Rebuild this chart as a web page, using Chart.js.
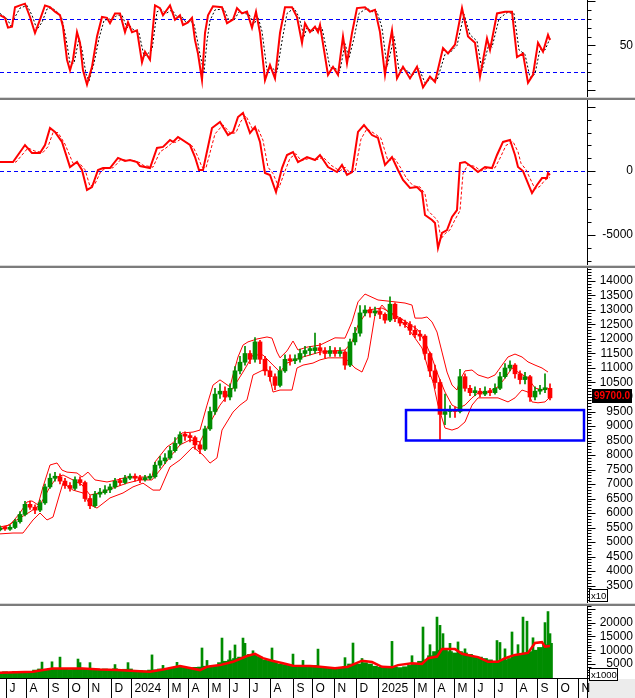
<!DOCTYPE html>
<html lang="vi">
<head>
    <meta charset="UTF-8">
    <title>Biểu đồ kỹ thuật</title>
    <script src="https://cdn.jsdelivr.net/npm/chart.js@4.4.1/dist/chart.umd.min.js"></script>
    <style>
        html, body { margin: 0; padding: 0; background: #fff; }
        #wrap { position: relative; width: 635px; height: 698px; overflow: hidden; }
        #wrap canvas { position: absolute; left: 0; }
        .sep { position: absolute; left: 0; width: 635px; height: 3px; box-sizing: border-box;
               border-top: 1px solid #d8d8d8; background: #7c7c7c; }
    </style>
</head>
<body>
<div id="wrap">
    <canvas id="c1" width="635" height="97" style="top:0"></canvas>
    <div class="sep" style="top:97px"></div>
    <canvas id="c2" width="635" height="165" style="top:100px"></canvas>
    <div class="sep" style="top:265px"></div>
    <canvas id="c3" width="635" height="335" style="top:268px"></canvas>
    <div class="sep" style="top:603px"></div>
    <canvas id="c4" width="635" height="92" style="top:606px"></canvas>
</div>

<script>
    // x axis = bar index (about one trading day per pixel)
    const X_MAX = 587;
    const monthTicks = [6, 26, 48, 68, 88, 111, 131, 168, 188, 208, 229, 249, 270, 293, 312,
        334, 356, 378, 414, 434, 454, 474, 494, 516, 537, 557, 578];
    const monthLabels = ['J', 'A', 'S', 'O', 'N', 'D', '2024', 'M', 'A', 'M', 'J', 'J', 'A', 'S', 'O',
        'N', 'D', '2025', 'M', 'A', 'M', 'J', 'J', 'A', 'S', 'O', 'N'];

    // weekly candles (price x10)
    const openP = [5420, 5480, 5440, 5500, 5700, 5950, 6300, 6200, 6100, 6350,
        6900, 7200, 7250, 7100, 6950, 6850, 7150, 7050, 6500, 6250,
        6650, 6700, 6800, 6900, 7100, 7050, 7200, 7250, 7200, 7150,
        7200, 7250, 7650, 7800, 7900, 8150, 8400, 8700, 8650, 8600,
        8350, 8200, 8900, 9500, 10100, 10200, 10000, 10300, 10900, 11200,
        11500, 11300, 11900, 11300, 10900, 10700, 10400, 10900, 11300, 11250,
        11300, 11500, 11600, 11600, 11700, 11600, 11500, 11600, 11500, 11550,
        11100, 11900, 12200, 12900, 13000, 12900, 12950, 12850, 12650, 13200,
        12700, 12550, 12500, 12300, 12150, 12100, 11500, 10900, 10500, 9400,
        9500, 9550, 9500, 10700, 10300, 10150, 10200, 10100, 10200, 10150,
        10300, 10700, 11000, 11100, 10800, 10600, 10700, 10000, 10200, 10250,
        10300];
    const highP = [5560, 5540, 5580, 5780, 6050, 6400, 6420, 6280, 6450, 7000,
        7350, 7400, 7350, 7200, 7050, 7250, 7250, 7100, 6600, 6750,
        6850, 6950, 7000, 7200, 7200, 7300, 7350, 7350, 7300, 7300,
        7350, 7750, 7950, 8050, 8300, 8600, 8800, 8800, 8750, 8650,
        8450, 9000, 9650, 10300, 10450, 10350, 10450, 11050, 11400, 11750,
        11600, 12050, 11950, 11400, 11050, 10800, 11050, 11450, 11450, 11450,
        11650, 11750, 11750, 12200, 11850, 11700, 11750, 11700, 11700, 11600,
        12000, 12400, 13150, 13150, 13100, 13100, 13050, 12900, 13450, 13250,
        12750, 12650, 12600, 12450, 12300, 12150, 11550, 11100, 10600, 10100,
        9700, 9650, 10950, 10800, 10400, 10350, 10300, 10350, 10300, 10450,
        10850, 11150, 11250, 11150, 10900, 10850, 10750, 10350, 10400, 10800,
        10450];
    const lowP = [5380, 5400, 5400, 5460, 5650, 5900, 6120, 5980, 6050, 6300,
        6850, 7100, 7000, 6850, 6750, 6800, 6950, 6400, 6150, 6200,
        6550, 6650, 6700, 6850, 6950, 7000, 7150, 7100, 7050, 7100,
        7150, 7200, 7550, 7700, 7850, 8100, 8350, 8500, 8450, 8200,
        8050, 8150, 8850, 9400, 9950, 9850, 9900, 10200, 10800, 11100,
        11150, 11200, 11150, 10750, 10550, 10250, 10350, 10850, 11100, 11150,
        11200, 11400, 11450, 11500, 11450, 11350, 11400, 11400, 11400, 10950,
        11050, 11800, 12100, 12800, 12750, 12800, 12700, 12550, 12600, 12600,
        12450, 12400, 12150, 12050, 11950, 11300, 10700, 10300, 8500, 9050,
        9300, 9300, 9450, 10200, 10050, 10050, 10000, 10050, 10050, 10100,
        10250, 10650, 10900, 10650, 10450, 10450, 9850, 9900, 10100, 10150,
        9900];
    const closeP = [5480, 5450, 5500, 5700, 5950, 6300, 6200, 6100, 6350, 6900,
        7200, 7250, 7100, 6950, 6850, 7150, 7050, 6500, 6250, 6650,
        6700, 6800, 6900, 7100, 7050, 7200, 7250, 7200, 7150, 7200,
        7250, 7650, 7800, 7900, 8150, 8400, 8700, 8650, 8600, 8350,
        8200, 8900, 9500, 10100, 10200, 10000, 10300, 10900, 11200, 11500,
        11300, 11900, 11300, 10900, 10700, 10400, 10900, 11300, 11250, 11300,
        11500, 11600, 11600, 11700, 11600, 11500, 11600, 11500, 11550, 11100,
        11900, 12200, 12900, 13000, 12900, 12950, 12850, 12650, 13200, 12700,
        12550, 12500, 12300, 12150, 12100, 11500, 10900, 10500, 9400, 9500,
        9550, 9500, 10700, 10300, 10150, 10200, 10100, 10200, 10150, 10300,
        10700, 11000, 11100, 10800, 10600, 10700, 10000, 10200, 10250, 10300,
        9970];
    // volume (x1000): weekly base level plus single-day spikes
    const volume = [2000, 2200, 1800, 2300, 2000, 2200, 2100, 2800, 3200, 3000,
        3300, 3100, 3400, 3200, 3000, 3300, 3500, 3100, 3300, 3000,
        3100, 3200, 3000, 3300, 2900, 3100, 3200, 2700, 2600, 2500,
        2800, 2900, 3200, 3000, 3300, 3800, 4000, 3600, 3500, 3800,
        3900, 4200, 4000, 4500, 5500, 6000, 6500, 7000, 7500, 8000,
        8500, 8200, 7500, 6500, 6000, 5800, 5000, 4800, 4500, 4300,
        4400, 4200, 4300, 4500, 4000, 3800, 3600, 3800, 3700, 4000,
        5000, 5200, 5000, 5500, 5000, 4200, 3800, 3600, 3800, 3900,
        3700, 4000, 4500, 5000, 6000, 6500, 8000, 9500, 10000, 10500,
        9500, 9000, 9500, 9000, 8500, 7500, 7500, 7000, 6500, 6000,
        6200, 6500, 7000, 8000, 8500, 9000, 9500, 10000, 11000, 12000,
        12500];
    const volSpikes = [[42, 5700], [52, 5800], [60, 7500], [78, 6800], [80, 5500], [90, 5500], [115, 4800],
        [128, 5500], [152, 8300], [163, 4500], [177, 5600], [202, 10800], [207, 6300], [222, 14400], [230, 9800],
        [235, 11900], [243, 14400], [245, 12500], [253, 9800], [272, 10800], [293, 8600], [303, 6300],
        [318, 10400], [345, 7300], [353, 12600], [362, 7000], [392, 13200], [412, 8000], [423, 18400],
        [430, 12000], [437, 22000], [440, 19000], [443, 16000], [450, 12500], [458, 13000], [465, 10500],
        [497, 13500], [500, 12800], [505, 10500], [512, 16600], [518, 12000], [523, 22000], [527, 20500],
        [533, 14500], [545, 20000], [548, 24000], [550, 16000]];
    const barX = closeP.map((_, i) => i * 5);

    // [bar, value]
    const bbUpper = [[0, 5520], [10, 5590], [20, 6000], [27, 6380], [32, 6415], [38, 6280], [43, 6900], [50, 7655],
        [57, 7725], [62, 7480], [67, 7410], [77, 7380], [82, 7240], [88, 7410], [95, 7140], [107, 7070], [117, 7140],
        [127, 7240], [152, 7240], [155, 7760], [167, 8280], [173, 8420], [182, 8760], [193, 8790], [200, 8860],
        [207, 9720], [213, 10410], [220, 10590], [230, 10350], [233, 10760], [238, 11380], [243, 11790], [248, 11900],
        [257, 12000], [267, 12070], [272, 12030], [277, 11550], [280, 11350], [287, 11590], [293, 11930], [298, 11620],
        [307, 11720], [320, 11790], [335, 12040], [345, 12030], [352, 12590], [358, 13280], [365, 13550], [378, 13345],
        [395, 13280], [405, 13240], [412, 13170], [415, 12720], [422, 12720], [427, 12760], [432, 12590], [437, 12240],
        [442, 11550], [447, 10860], [452, 10410], [457, 10240], [460, 10590], [465, 10900], [472, 10930], [478, 10760],
        [488, 10650], [495, 10760], [502, 11100], [508, 11380], [515, 11480], [522, 11380], [528, 11210], [535, 11100],
        [542, 11000], [548, 10860]];
    const bbMid = [[0, 5410], [20, 5830], [30, 6040], [40, 6280], [50, 6900], [57, 7240], [63, 7310], [73, 7140],
        [82, 6970], [90, 6620], [100, 6690], [113, 6860], [127, 7030], [140, 7140], [152, 7140], [160, 7480],
        [170, 7930], [180, 8350], [190, 8520], [200, 8450], [207, 8930], [220, 9720], [233, 10310], [243, 10860],
        [253, 11450], [263, 11450], [273, 11100], [280, 10860], [287, 11170], [300, 11350], [320, 11550], [345, 11620],
        [352, 11900], [358, 12480], [368, 13000], [382, 13070], [395, 12830], [408, 12550], [418, 12310], [425, 11900],
        [432, 11350], [438, 10760], [445, 10170], [452, 9720], [458, 9620], [465, 9720], [472, 9970], [478, 10140],
        [488, 10170], [498, 10350], [505, 10650], [512, 11000], [518, 10860], [528, 10650], [535, 10310], [542, 10240],
        [548, 10310]];
    const bbLower = [[0, 5280], [13, 5310], [23, 5310], [33, 5760], [40, 6000], [47, 5760], [53, 5860], [60, 6690],
        [63, 7030], [73, 6790], [83, 6690], [90, 6280], [97, 6170], [110, 6520], [123, 6690], [133, 6900], [143, 7030],
        [153, 6790], [160, 6790], [170, 7590], [180, 7830], [193, 8280], [203, 8000], [210, 7720], [217, 7900],
        [222, 8860], [233, 9480], [240, 9720], [247, 9900], [253, 10760], [263, 10930], [268, 10930], [273, 10170],
        [280, 10240], [292, 10240], [297, 11000], [303, 11100], [313, 11170], [320, 11280], [328, 11350], [345, 11350],
        [355, 11000], [362, 10860], [368, 11350], [375, 12830], [382, 13170], [388, 12930], [398, 12720], [408, 12380],
        [415, 12030], [422, 11690], [428, 11000], [433, 10520], [438, 9720], [445, 8930], [452, 8860], [458, 8930],
        [465, 9140], [472, 9720], [478, 9970], [488, 9970], [498, 9970], [508, 9830], [515, 9970], [522, 10240],
        [528, 10170], [532, 9830], [538, 9800], [545, 9830], [550, 10000]];

    const stochK = [[0, 84], [5, 81], [8, 70], [12, 71], [15, 93], [20, 95], [25, 97], [30, 82], [35, 64], [40, 79],
        [45, 95], [50, 93], [55, 88], [60, 84], [63, 71], [67, 34], [70, 22], [73, 34], [77, 65], [80, 53], [83, 22],
        [87, 6], [92, 26], [97, 60], [102, 82], [107, 81], [110, 75], [115, 86], [120, 86], [125, 65], [128, 76],
        [132, 65], [137, 67], [142, 31], [145, 43], [150, 34], [155, 95], [160, 92], [163, 84], [170, 95], [175, 79],
        [180, 84], [183, 73], [188, 76], [192, 81], [195, 56], [198, 41], [202, 11], [205, 64], [208, 84], [213, 94],
        [222, 93], [227, 75], [233, 79], [237, 92], [242, 86], [247, 88], [252, 70], [256, 88], [260, 64], [265, 11],
        [270, 28], [275, 13], [280, 64], [285, 93], [292, 93], [297, 82], [302, 53], [305, 75], [310, 65], [315, 71],
        [318, 65], [320, 73], [328, 17], [333, 26], [338, 17], [343, 60], [347, 30], [352, 64], [357, 92], [365, 93],
        [370, 88], [375, 90], [380, 65], [385, 17], [389, 48], [392, 67], [397, 13], [403, 26], [410, 13], [417, 26],
        [423, 3], [430, 15], [435, 9], [443, 47], [448, 41], [455, 51], [462, 92], [468, 60], [475, 53], [480, 15],
        [487, 58], [490, 45], [497, 86], [505, 88], [512, 88], [517, 37], [523, 41], [528, 8], [533, 17], [538, 53],
        [543, 43], [548, 62], [550, 56]];
    const stochD = [[0, 86], [7, 80], [11, 72], [15, 82], [20, 92], [27, 95], [32, 84], [37, 68], [42, 76], [47, 91],
        [52, 92], [57, 88], [62, 80], [66, 58], [70, 30], [74, 30], [79, 58], [82, 45], [86, 18], [89, 10], [94, 30],
        [99, 58], [104, 78], [109, 80], [112, 78], [117, 84], [122, 84], [127, 70], [130, 72], [134, 67], [139, 64],
        [144, 38], [147, 40], [152, 45], [157, 88], [162, 90], [166, 86], [172, 90], [177, 82], [182, 82], [186, 76],
        [190, 78], [194, 74], [197, 58], [200, 40], [204, 20], [207, 55], [210, 78], [215, 90], [224, 91], [229, 78],
        [235, 80], [239, 88], [244, 86], [249, 85], [254, 74], [258, 82], [262, 66], [267, 22], [272, 25], [277, 20],
        [282, 55], [287, 86], [294, 92], [299, 82], [304, 60], [307, 70], [312, 66], [317, 69], [322, 70], [330, 25],
        [335, 24], [340, 22], [345, 52], [349, 36], [354, 58], [359, 86], [367, 92], [372, 88], [377, 88], [382, 70],
        [387, 26], [391, 44], [394, 60], [399, 22], [405, 24], [412, 16], [419, 24], [425, 8], [432, 13], [437, 11],
        [445, 40], [450, 42], [457, 50], [464, 85], [470, 62], [477, 55], [482, 22], [489, 52], [492, 48], [499, 80],
        [507, 87], [514, 86], [519, 45], [525, 40], [530, 14], [535, 18], [540, 46], [545, 45], [550, 58]];

    const macd = [[0, 700], [13, 700], [25, 2030], [32, 1400], [40, 1400], [45, 2030], [50, 3360], [55, 3050],
        [62, 2270], [70, 310], [77, 700], [82, 80], [87, -1480], [92, -1250], [98, 80], [103, 230], [110, 230],
        [118, 1020], [125, 780], [130, 860], [137, 700], [140, 390], [150, 230], [157, 1800], [163, 1880], [170, 2420],
        [173, 2270], [178, 2660], [190, 2030], [195, 1090], [199, 80], [203, 80], [212, 3360], [220, 3830], [228, 2810],
        [233, 3050], [238, 4220], [243, 4530], [250, 2970], [255, 3440], [260, 2270], [265, -160], [270, -310],
        [276, -1640], [282, 230], [287, 1250], [293, 1480], [298, 700], [307, 1090], [315, 860], [320, 1250], [328, 310],
        [337, -80], [342, 470], [347, -310], [352, -80], [358, 3050], [364, 3590], [372, 2810], [378, 2580], [385, 470],
        [392, 1090], [398, 80], [403, -700], [410, -1330], [417, -1250], [422, -1640], [425, -3440], [432, -3830],
        [435, -4060], [438, -6020], [442, -4840], [447, -4610], [452, -3590], [457, -3050], [460, 625], [465, 700],
        [472, 310], [478, -80], [485, 310], [492, 230], [497, 1250], [503, 2270], [510, 2420], [515, 1250], [518, 310],
        [523, 0], [532, -1720], [537, -1090], [542, -550], [547, -550], [548, -160], [550, -310]];
    const macdSignal = [[0, 700], [16, 700], [28, 1800], [35, 1550], [43, 1450], [48, 1900], [53, 3000], [58, 3000],
        [65, 2100], [73, 600], [80, 560], [85, 100], [90, -1200], [95, -1000], [101, 0], [106, 200], [113, 250],
        [121, 900], [128, 820], [133, 830], [140, 650], [143, 450], [153, 300], [160, 1500], [166, 1800], [173, 2250],
        [176, 2250], [181, 2500], [193, 1900], [198, 1100], [202, 300], [206, 250], [215, 2900], [223, 3600],
        [231, 2900], [236, 3000], [241, 3900], [246, 4300], [253, 3200], [258, 3300], [263, 2400], [268, 300],
        [273, -200], [279, -1300], [285, 0], [290, 1000], [296, 1350], [301, 800], [310, 1000], [318, 900], [323, 1100],
        [331, 450], [340, 0], [345, 300], [350, -150], [355, 0], [361, 2500], [367, 3300], [375, 2900], [381, 2550],
        [388, 800], [395, 950], [401, 200], [406, -500], [413, -1150], [420, -1250], [425, -1800], [428, -3100],
        [435, -3650], [438, -3950], [441, -5300], [445, -4900], [450, -4600], [455, -3800], [460, -3100], [463, -200],
        [468, 500], [475, 350], [481, 0], [488, 250], [495, 250], [500, 1000], [506, 2000], [513, 2300], [518, 1500],
        [521, 600], [526, 100], [535, -1400], [540, -1200], [545, -700], [550, -500]];

    const volMA = [[0, 1850], [33, 2200], [43, 2800], [53, 3400], [67, 3400], [83, 3400], [100, 3000], [117, 2800],
        [140, 2400], [150, 2200], [163, 3000], [180, 4300], [200, 2800], [207, 4000], [220, 4600], [233, 5800],
        [247, 7900], [255, 8700], [263, 7100], [272, 6200], [283, 5300], [293, 4400], [310, 4300], [320, 4000],
        [335, 3500], [348, 4000], [362, 6200], [372, 5700], [382, 4000], [392, 3800], [398, 4600], [412, 5300],
        [422, 5000], [428, 7100], [437, 7700], [442, 10400], [455, 10400], [462, 8700], [472, 7900], [478, 7500],
        [488, 5800], [498, 5800], [505, 7100], [515, 8300], [528, 9000], [535, 12600], [542, 12900], [545, 11300],
        [550, 11500]];

    const priceLabels = [3500, 4000, 4500, 5000, 5500, 6000, 6500, 7000, 7500, 8000, 8500, 9000, 9500,
        10000, 10500, 11000, 11500, 12000, 12500, 13000, 13500, 14000];
    const lastPriceText = '99700.0';
    const zoneFrom = 406, zoneTo = 584, zoneTop = 9550, zoneBottom = 8500;

    const FONT = '12px "Liberation Sans", Arial, sans-serif';
    const GREEN = '#008c00', RED = '#ff0000', BLUE = '#0000ff';

    const pts = list => list.map(p => ({x: p[0], y: p[1]}));

    // right axis: axis line, minor/major ticks, labels, dashed reference lines
    Chart.register({
        id: 'panel',
        beforeDatasetsDraw(chart, args, o) {
            if (!o || !o.minor) return;
            const {ctx, chartArea: a, scales: {y}} = chart;
            ctx.save();
            ctx.strokeStyle = BLUE;
            ctx.lineWidth = 1;
            ctx.setLineDash([4, 3]);
            (o.refLines || []).forEach(v => {
                const py = Math.round(y.getPixelForValue(v)) + 0.5;
                ctx.beginPath();
                ctx.moveTo(a.left, py);
                ctx.lineTo(a.right, py);
                ctx.stroke();
            });
            ctx.restore();
        },
        afterDraw(chart, args, o) {
            if (!o || !o.minor) return;
            const {ctx, chartArea: a, scales: {y}} = chart;
            const ax = Math.round(a.right) + 0.5;
            ctx.save();
            ctx.strokeStyle = '#000';
            ctx.lineWidth = 1;
            ctx.beginPath();
            ctx.moveTo(ax, 0);
            ctx.lineTo(ax, chart.height);
            ctx.stroke();
            for (let v = Math.ceil(y.min / o.minor) * o.minor; v <= y.max; v += o.minor) {
                const py = Math.round(y.getPixelForValue(v)) + 0.5;
                const len = v % o.major === 0 ? 8 : 4;
                ctx.beginPath();
                ctx.moveTo(ax, py);
                ctx.lineTo(ax + len, py);
                ctx.stroke();
            }
            ctx.font = FONT;
            ctx.fillStyle = '#000';
            ctx.textAlign = 'right';
            ctx.textBaseline = 'middle';
            o.labels.forEach(v => ctx.fillText(String(v), 633, y.getPixelForValue(v)));
            ctx.restore();
        }
    });

    function unitBox(ctx, text, left, top, w) {
        ctx.save();
        ctx.fillStyle = '#fff';
        ctx.fillRect(left, top, w, 12);
        ctx.strokeStyle = '#000';
        ctx.lineWidth = 1;
        ctx.strokeRect(left + 0.5, top + 0.5, w, 12);
        ctx.fillStyle = '#000';
        ctx.font = '9.5px "Liberation Sans", Arial, sans-serif';
        ctx.textAlign = 'left';
        ctx.textBaseline = 'middle';
        ctx.fillText(text, left + 2, top + 7);
        ctx.restore();
    }

    function baseOptions(yMin, yMax, panel, bottomPad) {
        return {
            responsive: false,
            animation: false,
            events: [],
            layout: {padding: {left: 0, right: 48, top: 0, bottom: bottomPad || 0}},
            plugins: {legend: {display: false}, tooltip: {enabled: false}, panel: panel},
            scales: {
                x: {type: 'linear', min: 0, max: X_MAX, offset: false, display: false},
                y: {type: 'linear', min: yMin, max: yMax, display: false}
            }
        };
    }

    function lineSet(list, color, width, dash) {
        return {
            type: 'line', data: pts(list), borderColor: color, borderWidth: width,
            borderDash: dash || [], pointRadius: 0, tension: 0, fill: false
        };
    }

    // Panel 1: stochastic
    new Chart(document.getElementById('c1'), {
        type: 'line',
        data: {datasets: [lineSet(stochK, RED, 2), lineSet(stochD, '#000', 1, [2, 2])]},
        options: baseOptions(-7.9, 101.1, {minor: 10, major: 50, labels: [50], refLines: [20, 80]})
    });

    // Panel 2: MACD
    new Chart(document.getElementById('c2'), {
        type: 'line',
        data: {datasets: [lineSet(macd, RED, 2), lineSet(macdSignal, RED, 1, [3, 2])]},
        options: baseOptions(-7344, 5547, {minor: 1000, major: 5000, labels: [0, -5000], refLines: [0]})
    });

    // Panel 3: price, candles + Bollinger
    const candleColor = closeP.map((c, i) => c >= openP[i] ? GREEN : RED);
    new Chart(document.getElementById('c3'), {
        type: 'bar',
        data: {
            datasets: [
                {
                    data: barX.map((x, i) => ({x: x, y: [openP[i], closeP[i]]})),
                    backgroundColor: candleColor, barThickness: 4, grouped: false, minBarLength: 2
                },
                {
                    data: barX.map((x, i) => ({x: x, y: [lowP[i], highP[i]]})),
                    backgroundColor: candleColor, barThickness: 1, grouped: false
                },
                lineSet(bbUpper, RED, 1),
                lineSet(bbMid, RED, 1),
                lineSet(bbLower, RED, 1)
            ]
        },
        options: baseOptions(2897, 14448, {minor: 100, major: 500, labels: priceLabels}),
        plugins: [{
            id: 'priceExtras',
            afterDatasetsDraw(chart) {
                const {ctx, scales: {x, y}} = chart;
                const x1 = x.getPixelForValue(zoneFrom), x2 = x.getPixelForValue(zoneTo);
                const y1 = y.getPixelForValue(zoneTop), y2 = y.getPixelForValue(zoneBottom);
                ctx.save();
                ctx.strokeStyle = BLUE;
                ctx.lineWidth = 2.5;
                ctx.strokeRect(x1, y1, x2 - x1, y2 - y1);
                ctx.restore();
            },
            afterDraw(chart) {
                const {ctx, scales: {y}} = chart;
                const py = Math.round(y.getPixelForValue(closeP[closeP.length - 1])) - 2;
                ctx.save();
                ctx.fillStyle = '#000';
                ctx.fillRect(592, py - 7, 40, 14);
                ctx.fillStyle = RED;
                ctx.font = 'bold 10px "Liberation Sans", Arial, sans-serif';
                ctx.textAlign = 'center';
                ctx.textBaseline = 'middle';
                ctx.fillText(lastPriceText, 612, py + 0.5);
                ctx.restore();
                unitBox(ctx, 'x10', 589, 321, 18);
            }
        }]
    });

    // Panel 4: volume + MA, month axis
    new Chart(document.getElementById('c4'), {
        type: 'bar',
        data: {
            datasets: [
                lineSet(volMA, RED, 2.5),
                {
                    data: pts(volSpikes),
                    backgroundColor: GREEN, barThickness: 2, grouped: false
                },
                {
                    data: barX.map((x, i) => ({x: x, y: volume[i]})),
                    backgroundColor: GREEN, barThickness: 5, grouped: false
                }
            ]
        },
        options: baseOptions(-72, 26014, {minor: 1000, major: 5000, labels: [5000, 10000, 15000, 20000]}, 20),
        plugins: [{
            id: 'monthAxis',
            afterDraw(chart) {
                const {ctx, chartArea: a, scales: {x}} = chart;
                const by = Math.round(a.bottom) + 0.5;
                ctx.save();
                ctx.fillStyle = '#ececec';
                ctx.fillRect(a.right + 1, a.bottom + 1, chart.width - a.right, chart.height - a.bottom);
                ctx.strokeStyle = '#000';
                ctx.lineWidth = 1;
                ctx.beginPath();
                ctx.moveTo(0, by);
                ctx.lineTo(a.right, by);
                ctx.stroke();
                ctx.font = FONT;
                ctx.fillStyle = '#000';
                ctx.textAlign = 'left';
                ctx.textBaseline = 'middle';
                monthTicks.forEach((m, i) => {
                    const px = Math.round(x.getPixelForValue(m)) + 0.5;
                    ctx.beginPath();
                    ctx.moveTo(px, by);
                    ctx.lineTo(px, chart.height);
                    ctx.stroke();
                    ctx.fillText(monthLabels[i], px + 3, a.bottom + 11);
                });
                ctx.restore();
                unitBox(ctx, 'x1000', 589, 62, 28);
            }
        }]
    });
</script>
</body>
</html>
